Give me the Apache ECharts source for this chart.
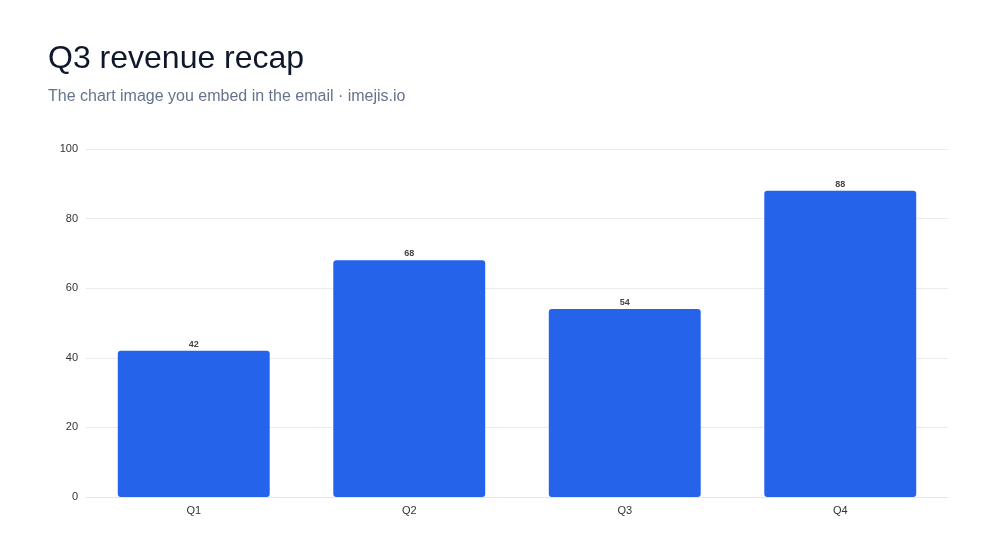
<!DOCTYPE html>
<html lang="en">
<head>
    <meta charset="UTF-8">
    <title>Q3 revenue recap</title>
    <script src="https://cdn.jsdelivr.net/npm/echarts@6/dist/echarts.min.js"></script>
    <style>
        html, body { margin: 0; padding: 0; background: #fff; }
    </style>
</head>
<body>
<div id="main" style="width: 1000px;height:560px;"></div>
<script>
    var quarters = ['Q1', 'Q2', 'Q3', 'Q4'];
    var revenue = [42, 68, 54, 88];

    var myChart = echarts.init(document.getElementById('main'));

    var option = {
        backgroundColor: '#ffffff',
        title: {
            text: 'Q3 revenue recap',
            subtext: 'The chart image you embed in the email · imejis.io',
            left: 43,
            top: 38,
            itemGap: 14,
            textStyle: {
                fontFamily: 'Helvetica, Arial, sans-serif',
                fontSize: 32,
                fontWeight: 'normal',
                color: '#0f172a'
            },
            subtextStyle: {
                fontFamily: 'Helvetica, Arial, sans-serif',
                fontSize: 16,
                color: '#64748b'
            }
        },
        grid: {
            left: 86,
            right: 52,
            top: 149,
            bottom: 63
        },
        xAxis: {
            type: 'category',
            data: quarters,
            axisTick: { show: false },
            axisLine: { lineStyle: { color: '#e5e7eb' } },
            axisLabel: {
                color: '#333',
                fontSize: 11,
                margin: 8,
                fontFamily: 'Helvetica, Arial, sans-serif'
            }
        },
        yAxis: {
            type: 'value',
            min: 0,
            max: 100,
            interval: 20,
            axisLine: { show: false },
            axisTick: { show: false },
            splitLine: { lineStyle: { color: '#ebebeb' } },
            axisLabel: {
                color: '#333',
                fontSize: 11,
                margin: 8,
                fontFamily: 'Helvetica, Arial, sans-serif'
            }
        },
        series: [{
            type: 'bar',
            data: revenue,
            barWidth: '70.5%',
            itemStyle: {
                color: '#2563eb',
                borderRadius: 3
            },
            label: {
                show: true,
                position: 'top',
                distance: 2,
                fontSize: 9,
                fontWeight: 'bold',
                color: '#444',
                fontFamily: 'Helvetica, Arial, sans-serif'
            }
        }]
    };
    myChart.setOption(option);
</script>
</body>
</html>
